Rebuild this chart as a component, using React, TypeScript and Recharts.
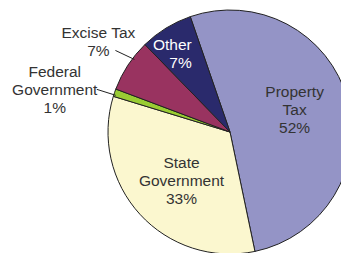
import { PieChart, Pie, Cell } from 'recharts';

const names = ['Property Tax', 'State Government', 'Federal Government', 'Excise Tax', 'Other'];
const shares = [52, 33, 1, 7, 7];
const nameLines = [['Property', 'Tax'], ['State', 'Government'], ['Federal', 'Government'], ['Excise Tax'], ['Other']];

const colors = ['#9494c6', '#fbf7cf', '#99cc33', '#993360', '#2a2a6c'];

const data = names.map((name, i) => ({ name, value: shares[i], lines: nameLines[i] }));

const RAD = Math.PI / 180;
const LINE_H = 18;

// label placement, by slice order
const labelLayout: any[] = [
  { r: 67, shiftX: 0, shiftY: -5, fill: '#333', anchor: 'middle' },
  { r: 67, shiftX: 1, shiftY: 3, fill: '#333', anchor: 'middle' },
  { outside: true, angleShift: 1, leader: [-19, -6], textDx: -42, fill: '#333' },
  { outside: true, angleShift: -4, leader: [-19, -9], textDx: -17, fill: '#333' },
  { r: 96, shiftX: 12, shiftY: 3, fill: '#fff', anchor: 'end' },
];

const renderLabel = (props: any) => {
  const { cx, cy, midAngle, outerRadius, index, payload, value } = props;
  const cfg = labelLayout[index];
  const lines: string[] = [...(payload.lines || data[index].lines), `${value}%`];
  const font = { fontFamily: 'Liberation Sans, Arial, sans-serif', fontSize: 15.5 };

  if (cfg.outside) {
    const a = (midAngle + cfg.angleShift) * RAD;
    const x1 = cx + (outerRadius - 2) * Math.cos(-a);
    const y1 = cy + (outerRadius - 2) * Math.sin(-a);
    const x2 = x1 + cfg.leader[0];
    const y2 = y1 + cfg.leader[1];
    return (
      <g>
        <line x1={x1} y1={y1} x2={x2} y2={y2} stroke="#222" strokeWidth={1} />
        {lines.map((t, i) => (
          <text key={i} x={x2 + cfg.textDx} y={y2 + (i - 1) * LINE_H} textAnchor="middle"
            dominantBaseline="central" fill={cfg.fill} {...font}>{t}</text>
        ))}
      </g>
    );
  }

  const a = midAngle * RAD;
  const x = cx + cfg.r * Math.cos(-a) + cfg.shiftX;
  const y = cy + cfg.r * Math.sin(-a) + cfg.shiftY;
  return (
    <g>
      {lines.map((t, i) => (
        <text key={i} x={x} y={y + (i - (lines.length - 1) / 2) * LINE_H} textAnchor={cfg.anchor}
          dominantBaseline="central" fill={cfg.fill} {...font}>{t}</text>
      ))}
    </g>
  );
};

export default function App() {
  return (
    <div style={{ position: 'absolute', left: 0, top: 0, width: 341, height: 253, background: '#fff', overflow: 'hidden' }}>
      <PieChart width={341} height={253} margin={{ top: 0, right: 0, bottom: 0, left: 0 }}>
        <Pie
          data={data}
          dataKey="value"
          nameKey="name"
          cx={230}
          cy={132}
          outerRadius={122}
          startAngle={109}
          endAngle={-251}
          stroke="#222"
          strokeWidth={1}
          label={renderLabel}
          labelLine={false}
          isAnimationActive={false}
        >
          {data.map((d, i) => (
            <Cell key={d.name} fill={colors[i]} />
          ))}
        </Pie>
      </PieChart>
    </div>
  );
}
